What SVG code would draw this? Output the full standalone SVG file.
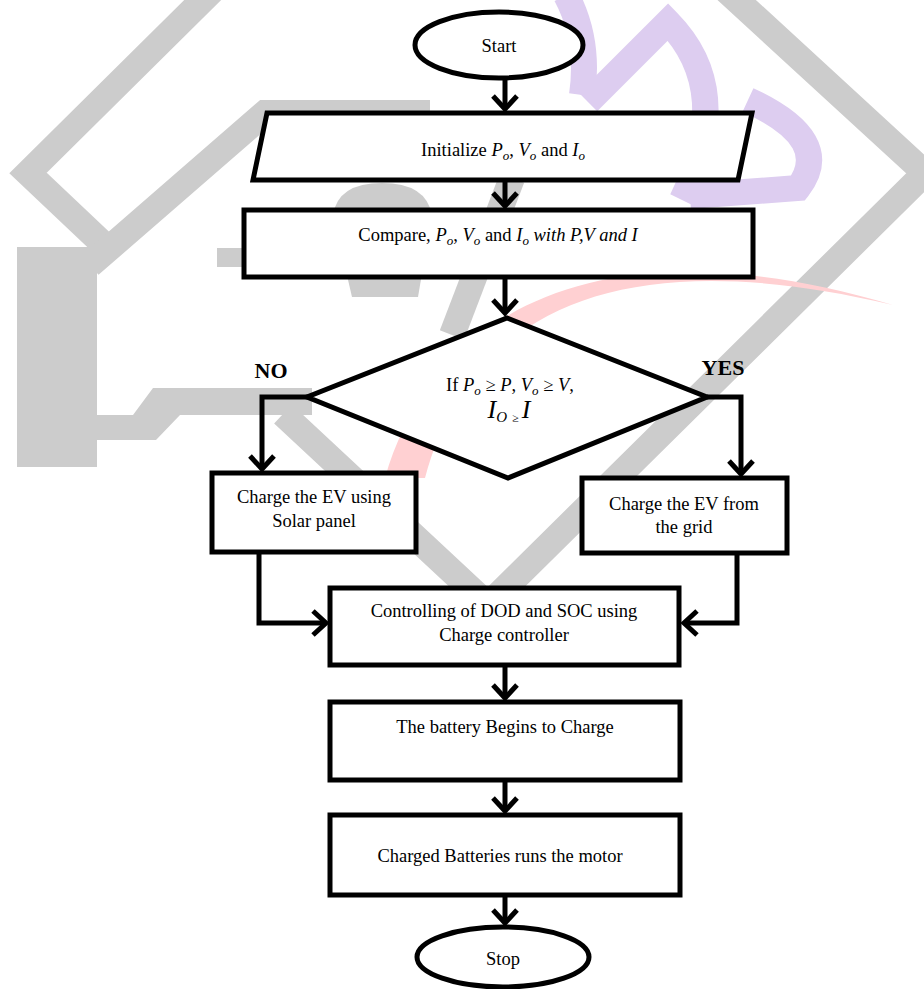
<svg xmlns="http://www.w3.org/2000/svg" width="924" height="989" viewBox="0 0 924 989">
<style>
.box{fill:#fff;stroke:#000;stroke-width:5;stroke-linejoin:miter}
.t{font-family:"Liberation Serif","Times New Roman",serif;font-size:18.5px;fill:#000;text-anchor:middle}
.i{font-style:italic}
.s{font-style:italic;font-size:13px}
.lbl{font-family:"Liberation Serif","Times New Roman",serif;font-size:22px;font-weight:bold;fill:#000;text-anchor:middle}
.conn{fill:none;stroke:#000;stroke-width:5;stroke-linejoin:miter;stroke-linecap:butt}
.wg{fill:none;stroke:#cccccc;stroke-width:26;stroke-linejoin:miter}
.wp{fill:none;stroke:#ddcdf0;stroke-width:26}
</style>
<defs>
<marker id="ah" markerUnits="userSpaceOnUse" markerWidth="40" markerHeight="40" viewBox="-20 -20 40 40" refX="0" refY="0" orient="auto">
<path d="M-13,-12 L0,0 L-13,12" fill="none" stroke="#000" stroke-width="5" stroke-linejoin="miter"/>
</marker>
</defs>
<rect width="924" height="989" fill="#fff"/>
<g id="watermark">
<path class="wg" d="M233,-30 L28,173 L102,243"/>
<path class="wg" d="M283,414 L488,605 L925,173 L704,-30"/>
<path class="wg" d="M430,113 L265,113 L90,265"/>
<path class="wg" d="M512,178 L452,335" stroke-width="32"/>
<rect x="17" y="247" width="80" height="220" fill="#cccccc"/>
<polygon points="97,415 133,415 153,388 312,388 312,415 180,415 156,440 97,440" fill="#cccccc"/>
<path d="M333,215 Q338,183 382,183 Q426,183 432,215 L418,297 L352,297 Z" fill="#cccccc"/>
<rect x="217" y="248" width="30" height="19" fill="#cccccc"/>
<path d="M385,478 C430,320 590,215 893,305 C620,240 470,310 425,478 Z" fill="#ffd0d2"/>
<path class="wp" d="M566,-5 Q590,40 582,95"/>
<path class="wp" d="M588,102 L668,22 Q735,90 682,200"/>
<path class="wp" d="M748,100 Q835,140 798,188 L690,196" stroke-width="24"/>
</g>
<g id="connectors">
<path class="conn" d="M505,78 V109" marker-end="url(#ah)"/>
<path class="conn" d="M505,182 V206" marker-end="url(#ah)"/>
<path class="conn" d="M505,279 V313" marker-end="url(#ah)"/>
<path class="conn" d="M309,397 H262 V469" marker-end="url(#ah)"/>
<path class="conn" d="M707,397 H741 V474" marker-end="url(#ah)"/>
<path class="conn" d="M259,552 V623 H326" marker-end="url(#ah)"/>
<path class="conn" d="M737,553 V623 H684" marker-end="url(#ah)"/>
<path class="conn" d="M505,667 V698" marker-end="url(#ah)"/>
<path class="conn" d="M505,782 V811" marker-end="url(#ah)"/>
<path class="conn" d="M505,897 V923" marker-end="url(#ah)"/>
</g>
<g id="start">
<ellipse class="box" cx="499" cy="45" rx="84" ry="33"/>
<text class="t" x="499" y="52">Start</text>
</g>
<g id="init">
<polygon class="box" points="267,113 752,113 738,180 253,180"/>
<text class="t" x="503" y="156">Initialize <tspan class="i">P</tspan><tspan class="s" dy="4">o</tspan><tspan dy="-4">, </tspan><tspan class="i">V</tspan><tspan class="s" dy="4">o</tspan><tspan dy="-4"> and </tspan><tspan class="i">I</tspan><tspan class="s" dy="4">o</tspan></text>
</g>
<g id="compare">
<rect class="box" x="244" y="210" width="509" height="67"/>
<text class="t" x="498" y="241">Compare, <tspan class="i">P</tspan><tspan class="s" dy="4">o</tspan><tspan dy="-4">, </tspan><tspan class="i">V</tspan><tspan class="s" dy="4">o</tspan><tspan dy="-4"> and </tspan><tspan class="i">I</tspan><tspan class="s" dy="4">o</tspan><tspan class="i" dy="-4"> with P,V and I</tspan></text>
</g>
<g id="decision">
<polygon class="box" points="507,318 707,397 508,478 307,397"/>
<text class="t" x="510" y="391">If <tspan class="i">P</tspan><tspan class="s" dy="4">o</tspan><tspan dy="-4"> ≥ </tspan><tspan class="i">P</tspan><tspan>, </tspan><tspan class="i">V</tspan><tspan class="s" dy="4">o</tspan><tspan dy="-4"> ≥ </tspan><tspan class="i">V</tspan><tspan>,</tspan></text>
<text class="t" x="509" y="418"><tspan class="i" font-size="26">I</tspan><tspan class="i" font-size="15" dy="4">O</tspan><tspan font-size="12" dx="2"> ≥ </tspan><tspan class="i" font-size="26" dy="-4">I</tspan></text>
<text class="lbl" x="271" y="378">NO</text>
<text class="lbl" x="723" y="375">YES</text>
</g>
<g id="solar">
<rect class="box" x="212" y="473" width="204" height="79"/>
<text class="t" x="314" y="503">Charge the EV using</text>
<text class="t" x="314" y="527">Solar panel</text>
</g>
<g id="grid">
<rect class="box" x="582" y="478" width="205" height="75"/>
<text class="t" x="684" y="510">Charge the EV from</text>
<text class="t" x="684" y="533">the grid</text>
</g>
<g id="controller">
<rect class="box" x="330" y="588" width="349" height="77"/>
<text class="t" x="504" y="617">Controlling of DOD and SOC using</text>
<text class="t" x="504" y="641">Charge controller</text>
</g>
<g id="battery">
<rect class="box" x="330" y="702" width="350" height="78"/>
<text class="t" x="505" y="733">The battery Begins to Charge</text>
</g>
<g id="motor">
<rect class="box" x="330" y="815" width="350" height="80"/>
<text class="t" x="500" y="862">Charged Batteries runs the motor</text>
</g>
<g id="stop">
<ellipse class="box" cx="503" cy="957" rx="86" ry="30"/>
<text class="t" x="503" y="965">Stop</text>
</g>
</svg>
